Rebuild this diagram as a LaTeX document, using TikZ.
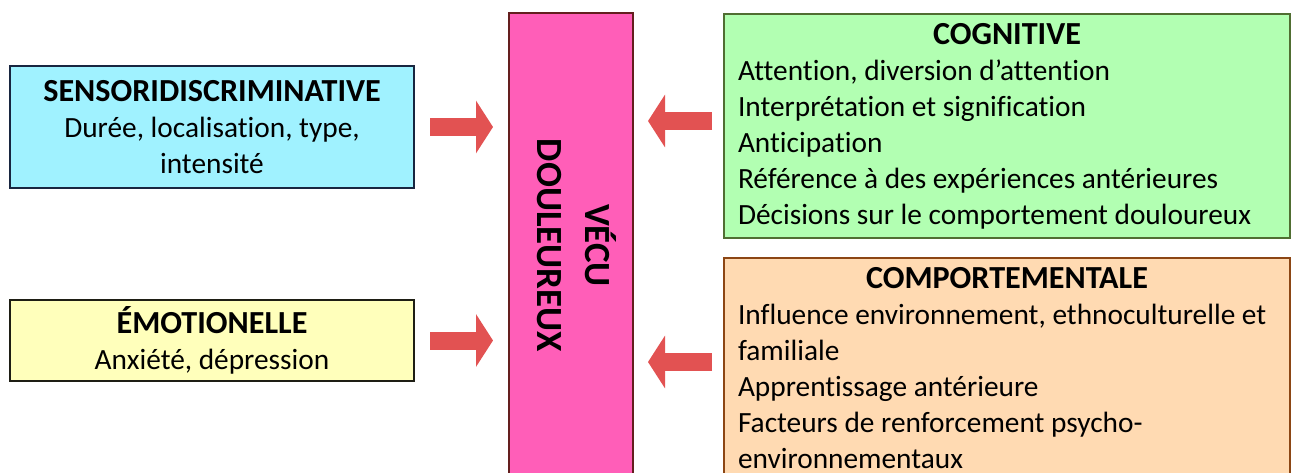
\documentclass[tikz,border=0pt]{standalone}
\usepackage{fontspec}
\setmainfont{Carlito}[Ligatures=NoCommon]
\usepackage{tikz}
\usetikzlibrary{calc,positioning}
\usetikzlibrary{arrows.meta}
\newlength{\pxu}
\setlength{\pxu}{0.02cm}
\definecolor{sensfill}{RGB}{160,242,255}
\definecolor{sensline}{RGB}{24,38,64}
\definecolor{emofill}{RGB}{255,255,187}
\definecolor{emoline}{RGB}{30,30,20}
\definecolor{vecufill}{RGB}{255,94,184}
\definecolor{veculine}{RGB}{100,30,30}
\definecolor{cogfill}{RGB}{178,255,178}
\definecolor{cogline}{RGB}{80,110,50}
\definecolor{compfill}{RGB}{255,218,178}
\definecolor{compline}{RGB}{140,70,20}
\definecolor{arrowred}{RGB}{226,82,82}
\newcommand{\boxtitle}[1]{{\fontsize{18.3}{20.5}\selectfont\bfseries #1}}
\newcommand{\plainlines}{\raggedright\spaceskip=0pt\relax\xspaceskip=0pt\relax\frenchspacing}
\tikzset{>={Triangle[length=0.34cm,width=1.04cm]}}

\begin{document}
\begin{tikzpicture}[x=0.02cm, y=-0.02cm]
    \tikzstyle{lbox} = [draw, line width=2\pxu, inner sep=0pt, align=center, minimum width=404\pxu, font=\fontsize{16.7}{20.5}\selectfont]
    \tikzstyle{rbox} = [draw, line width=2\pxu, inner xsep=14\pxu, inner ysep=0pt, text width=538\pxu, font=\fontsize{16.7}{20.5}\selectfont]
    \tikzstyle{fat} = [->, draw=arrowred, line width=18\pxu, shorten <=15\pxu, shorten >=15\pxu]

    \useasboundingbox (0,0) rectangle (1292,473);
    \clip (0,0) rectangle (1292,473);

    \node[draw=veculine, fill=vecufill, line width=2\pxu, minimum width=124\pxu, minimum height=465\pxu, font=\bfseries\fontsize{21}{27}\selectfont] (vecu) at (571,245.5)
      {\rotatebox{-90}{\begin{tabular}{@{}c@{}}VÉCU\\DOULEUREUX\end{tabular}}\hspace{6\pxu}};

    \node[lbox, fill=sensfill, draw=sensline, minimum height=122\pxu] (sens) at (212,127)
      {\boxtitle{SENSORIDISCRIMINATIVE}\\Durée, localisation, type,\\intensité};
    \node[lbox, fill=emofill, draw=emoline, minimum height=81\pxu, below=110\pxu of sens] (emo)
      {\boxtitle{ÉMOTIONELLE}\\Anxiété, dépression};

    \node[rbox, fill=cogfill, draw=cogline, minimum height=224\pxu, anchor=north west] (cog) at (723,13)
      {{\centering\boxtitle{COGNITIVE}\par}\plainlines Attention, diversion d’attention\\Interprétation et signification\\Anticipation\\Référence à des expériences antérieures\\Décisions sur le comportement douloureux};
    \node[rbox, fill=compfill, draw=compline, minimum height=220\pxu, below=18\pxu of cog] (comport)
      {{\centering\boxtitle{COMPORTEMENTALE}\par}\plainlines Influence environnement, ethnoculturelle et\\familiale\\Apprentissage antérieure\\Facteurs de renforcement psycho-\\environnementaux};

    % arrows into the centre
    \draw[fat] (sens.east) -- (sens.east -| vecu.west);
    \draw[fat] (emo.east) -- (emo.east -| vecu.west);
    \draw[fat, shorten <=11\pxu, shorten >=14\pxu] ([yshift=5\pxu]cog.west) -- ([yshift=5\pxu]cog.west -| vecu.east);
    \draw[fat, shorten <=11\pxu, shorten >=14\pxu] ([yshift=-105\pxu]comport.north west) -- ([yshift=-105\pxu]comport.north west -| vecu.east);
\end{tikzpicture}
\end{document}
